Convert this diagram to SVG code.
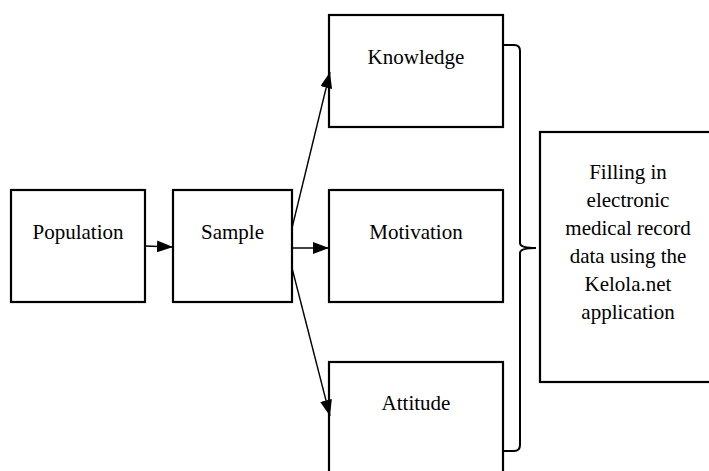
<svg xmlns="http://www.w3.org/2000/svg" width="709" height="471" viewBox="0 0 709 471">
<defs>
<marker id="ah" viewBox="0 0 16 12" refX="16" refY="6" markerWidth="16" markerHeight="12" markerUnits="userSpaceOnUse" orient="auto">
<path d="M0,0 L16,6 L0,12 Z" fill="#000"/>
</marker>
</defs>
<rect width="709" height="471" fill="#fff"/>
<g font-family="Liberation Serif" font-size="21" text-anchor="middle">
<g fill="#fff" stroke="#000" stroke-width="2.2">
<rect id="population-box" x="11" y="190" width="134" height="112"/>
<rect id="sample-box" x="173" y="190" width="119" height="112"/>
<rect id="knowledge-box" x="329" y="15" width="174" height="112"/>
<rect id="motivation-box" x="329" y="190" width="174" height="112"/>
<rect id="attitude-box" x="329" y="362" width="174" height="120"/>
<rect id="filling-box" x="540" y="132" width="175" height="250"/>
</g>
<g fill="#000">
<text id="population" x="78" y="239">Population</text>
<text id="sample" x="232.5" y="239">Sample</text>
<text id="knowledge" x="416" y="64">Knowledge</text>
<text id="motivation" x="416" y="239">Motivation</text>
<text id="attitude" x="416" y="410">Attitude</text>
<text id="filling"><tspan x="628" y="179">Filling in</tspan><tspan x="628" y="207">electronic</tspan><tspan x="628" y="235">medical record</tspan><tspan x="628" y="263">data using the</tspan><tspan x="628" y="291">Kelola.net</tspan><tspan x="628" y="319">application</tspan></text>
</g>
</g>
<g id="connectors" stroke="#000" stroke-width="1.4" fill="none">
<line x1="145" y1="246" x2="173" y2="247" marker-end="url(#ah)"/>
<line x1="292" y1="248" x2="329" y2="248" marker-end="url(#ah)"/>
<line x1="292" y1="228" x2="330" y2="72" marker-end="url(#ah)"/>
<line x1="292" y1="268" x2="330" y2="416" marker-end="url(#ah)"/>
<path stroke-width="2" d="M503,45 L514,45 Q520,45 520,51 L520,243 Q520,248 536,248 Q520,248 520,253 L520,445 Q520,451 514,451 L503,451"/>
</g>
</svg>
